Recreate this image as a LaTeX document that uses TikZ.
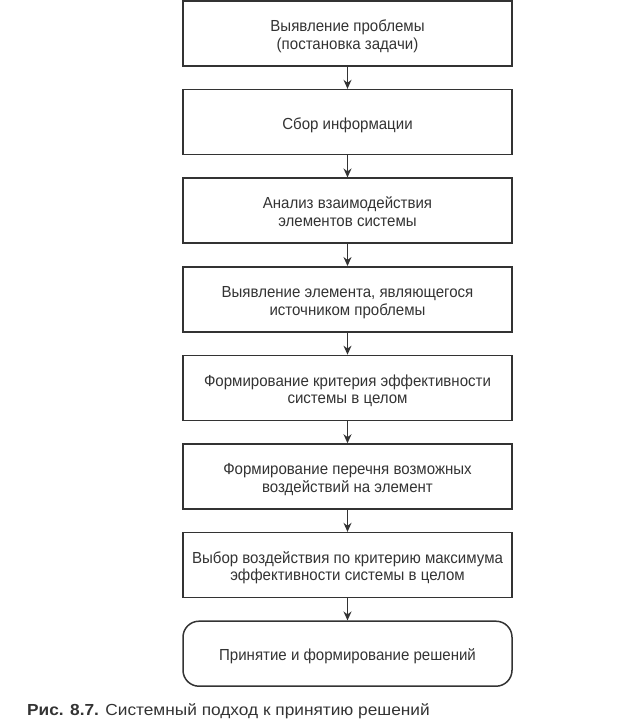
\documentclass[tikz,border=0pt]{standalone}
\usepackage{fontspec}
\setmainfont{Liberation Sans}
\newfontfamily\narrowfont[FakeStretch=0.94]{Liberation Sans}
\newfontfamily\capfont[FakeStretch=1.08]{Liberation Sans}
\usetikzlibrary{arrows.meta}
\definecolor{ink}{HTML}{333333}
\newcommand{\boxtxt}[1]{\raisebox{-3.5pt}[\height][\depth]{\begin{tabular}{@{}c@{}}#1\end{tabular}}}
\tikzset{
  stepbox/.style={draw=ink, line width=1.5pt, minimum width=329pt, minimum height=65pt,
    text=ink, font=\narrowfont\fontsize{16}{17.5}\selectfont, inner sep=0pt},
  endbox/.style={stepbox, rounded corners=16pt},
  flow/.style={draw=ink, line width=1.4pt, -{Stealth[length=9pt,width=8pt]}}
}
\begin{document}
\begin{tikzpicture}[x=1pt,y=1pt]
\useasboundingbox (0,0) rectangle (639,-725);
\node[stepbox] (b1) at (347.5,-33.5) {\boxtxt{Выявление проблемы\\(постановка задачи)}};
\node[stepbox] (b2) at (347.5,-122.1) {\boxtxt{Сбор информации}};
\node[stepbox] (b3) at (347.5,-210.7) {\boxtxt{Анализ взаимодействия\\элементов системы}};
\node[stepbox] (b4) at (347.5,-299.3) {\boxtxt{Выявление элемента, являющегося\\источником проблемы}};
\node[stepbox] (b5) at (347.5,-387.9) {\boxtxt{Формирование критерия эффективности\\системы в целом}};
\node[stepbox] (b6) at (347.5,-476.5) {\boxtxt{Формирование перечня возможных\\воздействий на элемент}};
\node[stepbox] (b7) at (347.5,-565.1) {\boxtxt{Выбор воздействия по критерию максимума\\эффективности системы в целом}};
\node[endbox] (b8) at (347.5,-653.7) {\boxtxt{Принятие и формирование решений}};
\draw[flow] (b1) -- (b2);
\draw[flow] (b2) -- (b3);
\draw[flow] (b3) -- (b4);
\draw[flow] (b4) -- (b5);
\draw[flow] (b5) -- (b6);
\draw[flow] (b6) -- (b7);
\draw[flow] (b7) -- (b8);
\node[anchor=base west, text=ink, font=\capfont\fontsize{16}{18}\selectfont, inner sep=0pt] (cap) at (27,-715) {\textbf{Рис. 8.7.} Системный подход к принятию решений};
\end{tikzpicture}
\end{document}
